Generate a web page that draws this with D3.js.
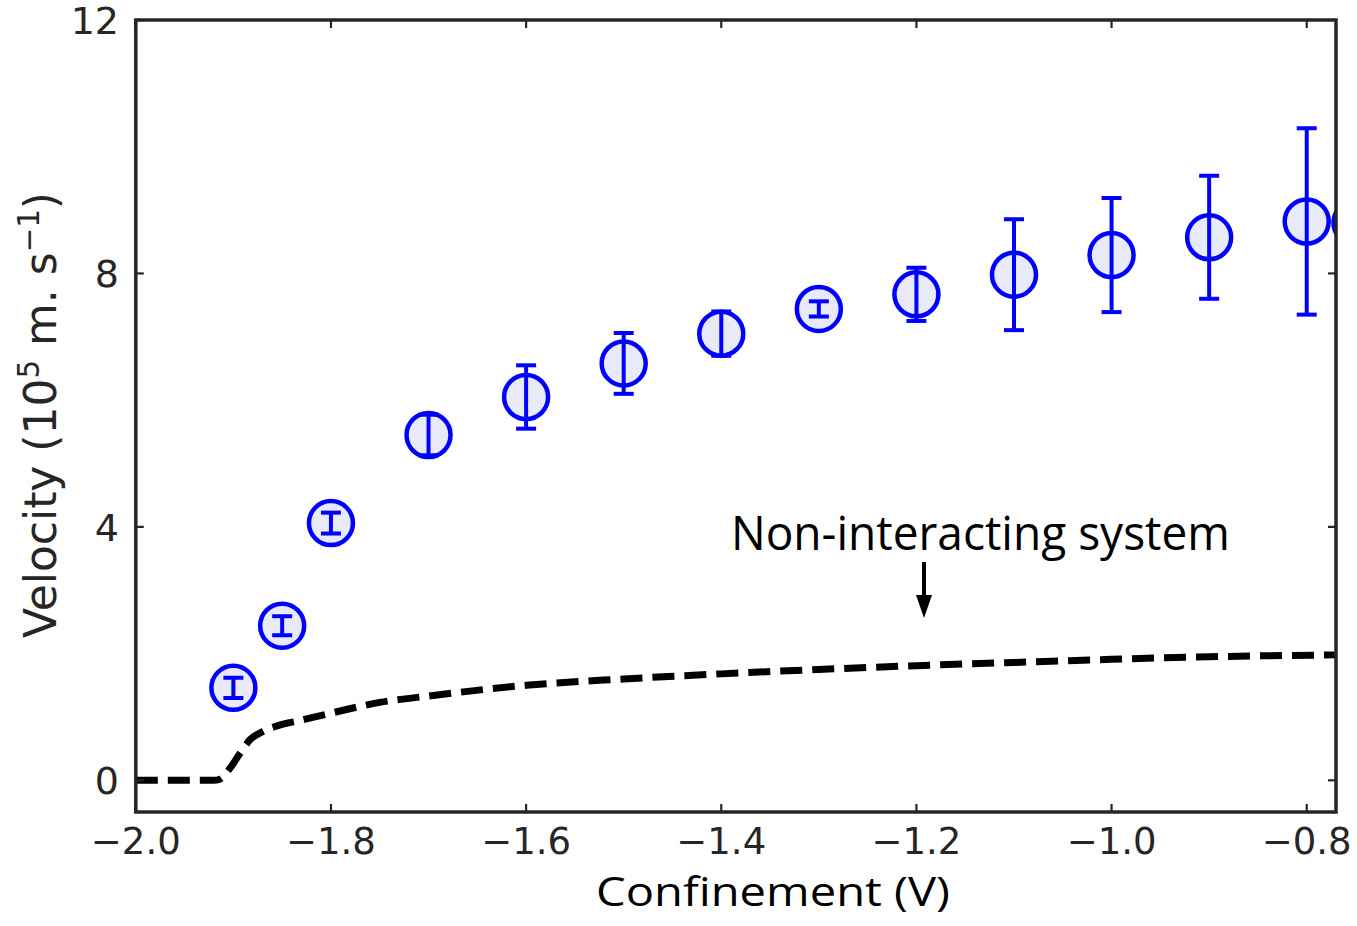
<!DOCTYPE html>
<html>
<head>
<meta charset="utf-8">
<script src="https://cdn.jsdelivr.net/npm/d3@7"></script>
<style>
  html, body { margin: 0; padding: 0; background: #fff; }
  svg { display: block; }
</style>
</head>
<body>
<svg id="chart" width="1357" height="926"></svg>
<script>
// ---- data ----
const confinement = [-1.9, -1.85, -1.8, -1.7, -1.6, -1.5, -1.4, -1.3, -1.2, -1.1, -1.0, -0.9, -0.8, -0.75];
const velocity    = [1.46, 2.44, 4.06, 5.45, 6.05, 6.58, 7.05, 7.44, 7.67, 7.98, 8.29, 8.57, 8.82, 8.80];
const velocityErr = [0.16, 0.15, 0.165, 0.32, 0.50, 0.48, 0.35, 0.12, 0.42, 0.875, 0.90, 0.97, 1.47, 1.50];

const lineX = [-2.0, -1.92, -1.915, -1.903, -1.893, -1.883, -1.87, -1.855, -1.83, -1.8, -1.75, -1.7, -1.6, -1.5, -1.4, -1.3, -1.2, -1.1, -1.0, -0.9, -0.77];
const lineY = [0, 0, 0.01, 0.2, 0.43, 0.64, 0.77, 0.86, 0.95, 1.06, 1.23, 1.33, 1.50, 1.60, 1.68, 1.75, 1.81, 1.86, 1.91, 1.95, 1.98];

const xTicks = [-2.0, -1.8, -1.6, -1.4, -1.2, -1.0, -0.8];
const yTicks = [0, 4, 8, 12];

// ---- layout ----
const L = 135.8, R = 1336, T = 20, B = 812;
const x = d3.scaleLinear().domain([-2.0, -0.77]).range([L, R]);
const y = d3.scaleLinear().domain([-0.5, 12]).range([B, T]);

const svg = d3.select('#chart');
const axisColor = '#262626';
const tickFont = "'DejaVu Sans', sans-serif";

svg.append('defs').append('clipPath').attr('id', 'plotclip')
  .append('rect').attr('x', L).attr('y', T).attr('width', R - L).attr('height', B - T);

const plot = svg.append('g').attr('clip-path', 'url(#plotclip)');

// dashed non-interacting line
const lineGen = d3.line().x(d => x(d[0])).y(d => y(d[1])).curve(d3.curveMonotoneX);
plot.append('path')
  .datum(lineX.map((v, i) => [v, lineY[i]]))
  .attr('d', lineGen)
  .attr('fill', 'none')
  .attr('stroke', '#000')
  .attr('stroke-width', 7)
  .attr('stroke-dasharray', '22,10');

// points
const pts = confinement.map((c, i) => ({ c, v: velocity[i], e: velocityErr[i] }));
const g = plot.selectAll('g.pt').data(pts).enter().append('g').attr('class', 'pt');
g.append('circle')
  .attr('cx', d => x(d.c)).attr('cy', d => y(d.v)).attr('r', 22)
  .attr('fill', '#e8eafa').attr('stroke', '#0000ff').attr('stroke-width', 4.5);
g.append('line')
  .attr('x1', d => x(d.c)).attr('x2', d => x(d.c))
  .attr('y1', d => y(d.v - d.e)).attr('y2', d => y(d.v + d.e))
  .attr('stroke', '#0000ff').attr('stroke-width', 4);
[1, -1].forEach(s => {
  g.append('line')
    .attr('x1', d => x(d.c) - 10).attr('x2', d => x(d.c) + 10)
    .attr('y1', d => y(d.v + s * d.e)).attr('y2', d => y(d.v + s * d.e))
    .attr('stroke', '#0000ff').attr('stroke-width', 4);
});

// frame
svg.append('rect').attr('x', L).attr('y', T).attr('width', R - L).attr('height', B - T)
  .attr('fill', 'none').attr('stroke', axisColor).attr('stroke-width', 3.5);

// ticks (inward, all four sides)
const tk = 8;
xTicks.forEach(t => {
  svg.append('line').attr('x1', x(t)).attr('x2', x(t)).attr('y1', B).attr('y2', B - tk)
    .attr('stroke', axisColor).attr('stroke-width', 2.2);
  svg.append('line').attr('x1', x(t)).attr('x2', x(t)).attr('y1', T).attr('y2', T + tk)
    .attr('stroke', axisColor).attr('stroke-width', 2.2);
});
yTicks.forEach(t => {
  svg.append('line').attr('x1', L).attr('x2', L + tk).attr('y1', y(t)).attr('y2', y(t))
    .attr('stroke', axisColor).attr('stroke-width', 2.2);
  svg.append('line').attr('x1', R).attr('x2', R - tk).attr('y1', y(t)).attr('y2', y(t))
    .attr('stroke', axisColor).attr('stroke-width', 2.2);
});

// tick labels
const fmtX = d => (d < 0 ? '\u2212' : '') + Math.abs(d).toFixed(1);
svg.selectAll('text.xt').data(xTicks).enter().append('text')
  .attr('x', d => x(d)).attr('y', 854)
  .attr('text-anchor', 'middle')
  .attr('font-family', tickFont).attr('font-size', 37).attr('fill', axisColor)
  .text(fmtX);
svg.selectAll('text.yt').data(yTicks).enter().append('text')
  .attr('x', 119).attr('y', d => y(d)).attr('dy', '0.36em')
  .attr('text-anchor', 'end')
  .attr('font-family', tickFont).attr('font-size', 38).attr('fill', axisColor)
  .text(d => d);

// axis titles
svg.append('text')
  .attr('x', 773).attr('y', 906).attr('text-anchor', 'middle')
  .attr('font-family', "'Open Sans', sans-serif").attr('font-size', 40).attr('fill', '#000')
  .attr('textLength', 354).attr('lengthAdjust', 'spacingAndGlyphs')
  .text('Confinement (V)');

const yl = svg.append('text')
  .attr('transform', 'translate(56,415) rotate(-90)')
  .attr('text-anchor', 'middle')
  .attr('font-family', tickFont).attr('font-size', 45).attr('fill', axisColor)
  .attr('textLength', 446).attr('lengthAdjust', 'spacingAndGlyphs');
yl.append('tspan').text('Velocity (10');
yl.append('tspan').attr('dy', -17).attr('font-size', 30).text('5');
yl.append('tspan').attr('dy', 17).text(' m. s');
yl.append('tspan').attr('dy', -17).attr('font-size', 30).text('\u22121');
yl.append('tspan').attr('dy', 17).text(')');

// annotation
svg.append('text')
  .attr('x', 731).attr('y', 550)
  .attr('font-family', "'Open Sans', sans-serif").attr('font-size', 48).attr('fill', '#000')
  .attr('textLength', 499).attr('lengthAdjust', 'spacingAndGlyphs')
  .text('Non-interacting system');

const ax = 924;
svg.append('line').attr('x1', ax).attr('x2', ax).attr('y1', 562).attr('y2', 598)
  .attr('stroke', '#000').attr('stroke-width', 4);
svg.append('path')
  .attr('d', `M${ax - 8},595 L${ax + 8},595 L${ax},618 Z`)
  .attr('fill', '#000');
</script>
</body>
</html>
